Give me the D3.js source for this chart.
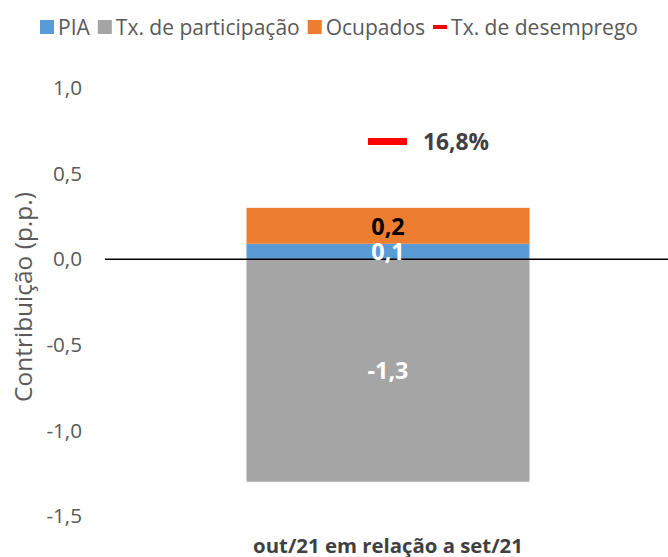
<!DOCTYPE html>
<html><head><meta charset="utf-8">
<script src="https://cdn.jsdelivr.net/npm/d3@7"></script>
<style>body{margin:0;background:#fff}svg{display:block}text{font-family:"Open Sans",Lato,sans-serif}</style>
</head><body><svg id="c" width="668" height="557"></svg>
<script>
const categories = ["out/21 em relação a set/21"];
const seriesNames = ["PIA", "Tx. de participação", "Ocupados", "Tx. de desemprego"];
const pia = [0.09];
const participacao = [-1.3];
const ocupados = [0.21];
const desemprego = [16.8];
const yTicks = [1.0, 0.5, 0.0, -0.5, -1.0, -1.5];
const colors = {"PIA":"#5b9bd5","Tx. de participação":"#a5a5a5","Ocupados":"#ed7d31","Tx. de desemprego":"#ff0000"};
const fmt = v => d3.format(".1f")(v).replace("−", "-").replace(".", ",");

// size text so that it spans a given width
function fit(sel, target, base = 20) {
  sel.style("font-size", base + "px");
  const w = sel.node().getComputedTextLength();
  const s = base * target / w;
  sel.style("font-size", s + "px");
  return s;
}

const svg = d3.select("#c");
const L = 105, R = 671, T = 88, B = 516;
const x = d3.scaleBand().domain(categories).range([L, R]).paddingInner(0.5).paddingOuter(0.25);
const y = d3.scaleLinear().domain([-1.5, 1.0]).range([B, T]);
const y2 = d3.scaleLinear().domain([0, 19.2]).range([B, T]);

// y axis (labels only)
const ax = svg.append("g").attr("transform", `translate(${L},0)`)
  .call(d3.axisLeft(y).tickValues(yTicks).tickFormat(fmt).tickSize(0).tickPadding(23));
ax.select(".domain").remove();
const tickTexts = ax.selectAll("text").attr("fill", "#595959").style("font-family", "'Open Sans',Lato,sans-serif");
const tickSize = fit(tickTexts.filter(d => d === 1.0), 29);
tickTexts.style("font-size", tickSize + "px");

// bars
categories.forEach((c, i) => {
  const bx = x(c), bw = x.bandwidth();
  svg.append("rect").attr("x", bx).attr("width", bw).attr("y", y(0)).attr("height", y(participacao[i]) - y(0)).attr("fill", colors["Tx. de participação"]);
  svg.append("rect").attr("x", bx).attr("width", bw).attr("y", y(pia[i])).attr("height", y(0) - y(pia[i])).attr("fill", colors["PIA"]);
  svg.append("rect").attr("x", bx).attr("width", bw).attr("y", y(pia[i] + ocupados[i])).attr("height", y(pia[i]) - y(pia[i] + ocupados[i])).attr("fill", colors["Ocupados"]);
});

// zero line
svg.append("line").attr("x1", L).attr("x2", 668).attr("y1", y(0)).attr("y2", y(0)).attr("stroke", "#000").attr("stroke-width", 1.5);

// value labels
categories.forEach((c, i) => {
  const cx = x(c) + x.bandwidth() / 2;
  const t1 = svg.append("text").attr("x", cx).attr("y", (y(0) + y(participacao[i])) / 2).attr("text-anchor", "middle").attr("dominant-baseline", "central")
    .attr("fill", "#fff").attr("font-weight", "bold").text(fmt(participacao[i]));
  const vs = fit(t1, 41);
  svg.append("text").attr("x", cx).attr("y", (y(0) + y(pia[i])) / 2).attr("text-anchor", "middle").attr("dominant-baseline", "central")
    .attr("fill", "#fff").attr("font-weight", "bold").style("font-size", vs + "px").text(fmt(pia[i]));
  svg.append("text").attr("x", cx).attr("y", (y(pia[i]) + y(pia[i] + ocupados[i])) / 2).attr("text-anchor", "middle").attr("dominant-baseline", "central")
    .attr("fill", "#000").attr("font-weight", "bold").style("font-size", vs + "px").text(fmt(ocupados[i]));
  // unemployment marker
  svg.append("line").attr("x1", cx - 20).attr("x2", cx + 19).attr("y1", y2(desemprego[i])).attr("y2", y2(desemprego[i]))
    .attr("stroke", colors["Tx. de desemprego"]).attr("stroke-width", 7);
  const t4 = svg.append("text").attr("x", cx + 35).attr("y", y2(desemprego[i])).attr("dominant-baseline", "central")
    .attr("fill", "#404040").attr("font-weight", "bold").text(fmt(desemprego[i]) + "%");
  fit(t4, 66);
});

// x label
const xl = svg.append("text").attr("x", x(categories[0]) + x.bandwidth() / 2).attr("y", 545).attr("text-anchor", "middle").attr("dominant-baseline", "central")
  .attr("fill", "#404040").attr("font-weight", "bold").text(categories[0]);
fit(xl, 270);

// y title
const yt = svg.append("text").attr("transform", `translate(22,297) rotate(-90)`).attr("text-anchor", "middle").attr("dominant-baseline", "central")
  .attr("fill", "#595959").text("Contribuição (p.p.)");
fit(yt, 210);

// legend
const lg = svg.append("g");
const probe = lg.append("text").text("Tx. de participação");
const lsize = fit(probe, 184);
probe.remove();
let lx = 40;
const ly = 27;
seriesNames.forEach(n => {
  if (n === "Tx. de desemprego") {
    lg.append("line").attr("x1", lx).attr("x2", lx + 14).attr("y1", ly).attr("y2", ly).attr("stroke", colors[n]).attr("stroke-width", 4);
  } else {
    lg.append("rect").attr("x", lx).attr("y", ly - 7).attr("width", 14).attr("height", 14).attr("fill", colors[n]);
  }
  const t = lg.append("text").attr("x", lx + 18).attr("y", ly).attr("dominant-baseline", "central").attr("fill", "#595959").style("font-size", lsize + "px").text(n);
  lx += 18 + t.node().getComputedTextLength() + 8;
});
</script></body></html>
